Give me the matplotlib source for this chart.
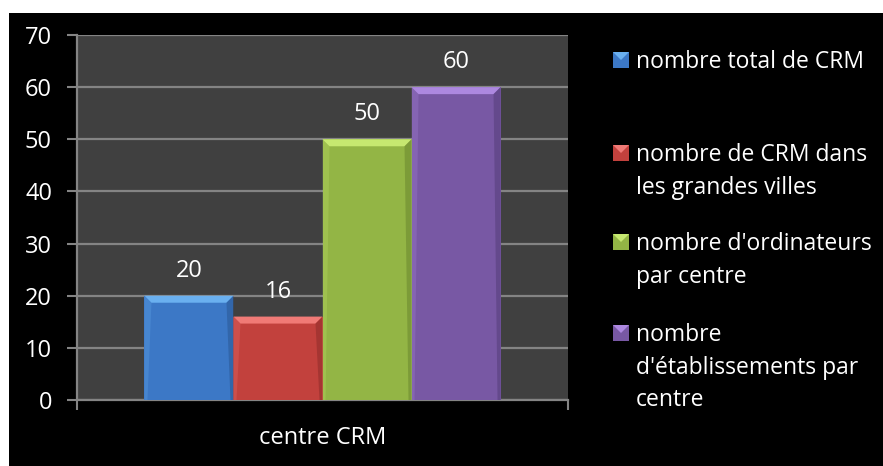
import matplotlib
matplotlib.use("Agg")
import matplotlib.pyplot as plt
from matplotlib.patches import Rectangle, Polygon
import numpy as np

# data
category = "centre CRM"
series = ["nombre total de CRM",
          "nombre de CRM dans\nles grandes villes",
          "nombre d'ordinateurs\npar centre",
          "nombre\nd'établissements par\ncentre"]
values = [20, 16, 50, 60]
y_ticks = [0, 10, 20, 30, 40, 50, 60, 70]

# face, light (top bevel), dark (side shade)
colors = ["#3c78c6", "#c2413d", "#93b545", "#7858a4"]
lights = ["#6ab0f0", "#f07a76", "#c6e870", "#ad88e0"]
darks = ["#2c5a98", "#922e2b", "#6e8a30", "#573f7c"]

plt.rcParams['font.family'] = ['Open Sans', 'DejaVu Sans']

W, H = 883, 466
fig = plt.figure(figsize=(W / 100, H / 100), dpi=100, facecolor="white")
fig.patches.append(Rectangle((9 / W, 0), 1, (H - 13) / H, transform=fig.transFigure,
                             facecolor="black", edgecolor="none", zorder=-5))

ax = fig.add_axes([77 / W, (H - 400) / H, 491 / W, 365 / H])
ax.set_facecolor("#404040")

bw = 0.1813
xs = (np.arange(len(values)) - 1.5) * bw
ax.set_xlim(-0.5, 0.5)
ax.set_ylim(0, 70)

bars = ax.bar(xs, values, width=bw, color=colors, edgecolor="none", zorder=3)

# bevel effect computed from each bar's own extent
fig.canvas.draw()
to_data = ax.transData.inverted()
for b, lc, dc in zip(bars, lights, darks):
    x0, y0 = b.get_x(), b.get_y()
    x1, y1 = x0 + b.get_width(), y0 + b.get_height()
    (px0, py0) = ax.transData.transform((x0, y0))
    (px1, py1) = ax.transData.transform((x1, y1))
    d = 7
    def dp(px, py):
        return to_data.transform((px, py))
    top = [dp(px0, py1), dp(px1, py1), dp(px1 - d, py1 - d), dp(px0 + d, py1 - d)]
    right = [dp(px1, py1), dp(px1, py0), dp(px1 - 3, py0), dp(px1 - d, py1 - d)]
    left = [dp(px0, py1), dp(px0 + d, py1 - d), dp(px0 + 3, py0), dp(px0, py0)]
    ax.add_patch(Polygon(top, closed=True, facecolor=lc, edgecolor="none", zorder=4))
    ax.add_patch(Polygon(right, closed=True, facecolor=dc, edgecolor="none", alpha=0.6, zorder=4))
    ax.add_patch(Polygon(left, closed=True, facecolor=lc, edgecolor="none", alpha=0.25, zorder=4))
    ax.annotate(str(int(b.get_height())), (b.get_x() + b.get_width() / 2, y1),
                xytext=(0, 18), textcoords="offset points", ha="center", va="center",
                color="white", fontsize=17, zorder=5)

ax.set_yticks(y_ticks)
ax.yaxis.grid(True, color="#848484", linewidth=1.6, zorder=1)
ax.set_axisbelow(True)
ax.tick_params(axis="y", colors="#848484", labelcolor="white", labelsize=17,
               length=7, width=1.5, pad=11)

ax.set_xticks([0])
ax.set_xticklabels([category])
ax.set_xticks([-0.5, 0.5], minor=True)
ax.tick_params(axis="x", which="major", length=0, pad=19, labelcolor="white", labelsize=17)
ax.tick_params(axis="x", which="minor", length=7, width=1.5, colors="#848484")

for s in ["top", "right"]:
    ax.spines[s].set_visible(False)
for s in ["left", "bottom"]:
    ax.spines[s].set_color("#848484")
    ax.spines[s].set_linewidth(1.6)

# legend drawn by hand so the marker sits beside the first line
leg_y = [60, 153, 242, 333]
for c, lc, lab, yy in zip(colors, lights, series, leg_y):
    fy = (H - yy) / H
    fig.patches.append(Rectangle((613 / W, fy - 8 / H), 16 / W, 16 / H, transform=fig.transFigure,
                                 facecolor=c, edgecolor="none", zorder=3))
    fig.patches.append(Polygon([(613 / W, fy + 8 / H), (629 / W, fy + 8 / H), (621 / W, fy)],
                               closed=True, transform=fig.transFigure,
                               facecolor=lc, edgecolor="none", zorder=4))
    fig.text(636 / W, fy + 10 / H, lab, color="white", fontsize=16.5, ha="left", va="top",
             linespacing=1.48)

fig.savefig("out.png", dpi=100, facecolor=fig.get_facecolor())
